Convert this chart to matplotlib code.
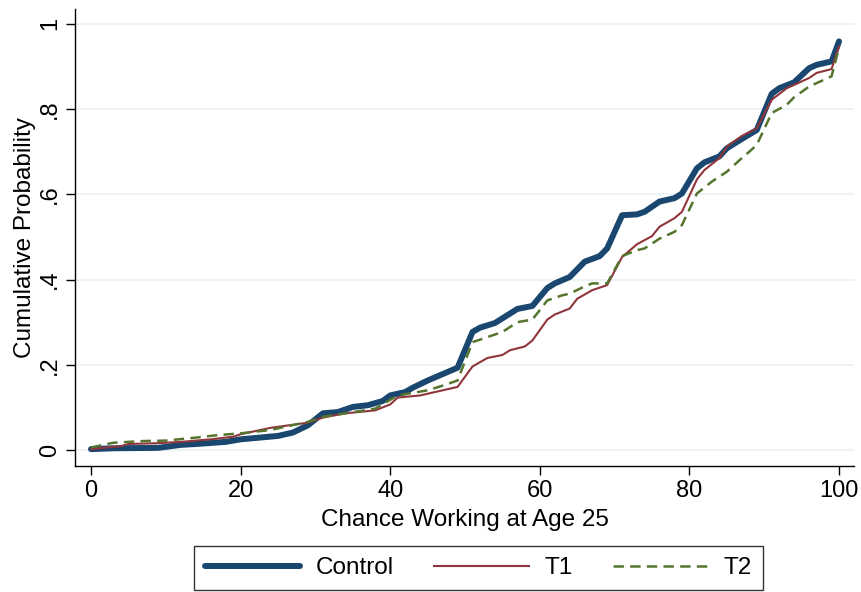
import matplotlib
matplotlib.use("Agg")
import matplotlib.pyplot as plt

plt.rcParams['font.family'] = ['Liberation Sans', 'DejaVu Sans']
plt.rcParams['lines.scale_dashes'] = False

# Cumulative distributions
ctrl_x = [0, 3, 9, 12, 14, 18, 20, 25, 27, 29, 31, 33, 35, 37, 39, 40, 42, 43, 45, 47,
          49, 51, 52, 54, 56, 57, 59, 61, 62, 64, 66, 68, 69, 71, 73, 74, 76, 78, 79, 81,
          82, 84, 85, 87, 89, 91, 92, 94, 96, 97, 99, 100]
ctrl_y = [0.002, 0.004, 0.005, 0.012, 0.014, 0.019, 0.025, 0.033, 0.041, 0.058,
          0.086, 0.089, 0.101, 0.105, 0.115, 0.128, 0.136, 0.146, 0.163, 0.178,
          0.193, 0.277, 0.287, 0.298, 0.320, 0.331, 0.338, 0.380, 0.391, 0.406,
          0.442, 0.455, 0.473, 0.551, 0.553, 0.559, 0.583, 0.591, 0.602, 0.661,
          0.675, 0.689, 0.708, 0.730, 0.751, 0.836, 0.849, 0.863, 0.896, 0.904,
          0.912, 0.959]

t1_x = [0, 4, 5, 9, 12, 16, 19, 20, 24, 29, 31, 34, 38, 40, 41, 44, 46, 49,
        51, 53, 55, 56, 58, 59, 61, 62, 64, 65, 67, 69, 71, 73, 75, 76, 78, 79,
        81, 82, 84, 85, 87, 89, 91, 93, 94, 96, 97, 99, 100]
t1_y = [0.002, 0.009, 0.014, 0.016, 0.019, 0.025, 0.031, 0.037, 0.052, 0.064,
        0.076, 0.086, 0.093, 0.107, 0.123, 0.128, 0.136, 0.148,
        0.196, 0.216, 0.223, 0.234, 0.243, 0.257, 0.306, 0.318, 0.332, 0.355,
        0.375, 0.387, 0.453, 0.483, 0.502, 0.524, 0.544, 0.559,
        0.635, 0.657, 0.685, 0.712, 0.737, 0.755, 0.822, 0.849, 0.857, 0.873,
        0.885, 0.894, 0.947]

t2_x = [0, 3, 7, 10, 14, 17, 20, 24, 29, 31, 34, 38, 41, 45, 47, 49,
        51, 53, 55, 57, 59, 61, 63, 64, 66, 67, 69, 71, 73, 74, 76, 78, 79,
        81, 83, 85, 87, 88, 89, 91, 93, 94, 96, 98, 99, 100]
t2_y = [0.006, 0.017, 0.021, 0.022, 0.029, 0.035, 0.039, 0.047, 0.066, 0.078,
        0.086, 0.097, 0.128, 0.140, 0.151, 0.163,
        0.253, 0.265, 0.277, 0.300, 0.306, 0.351, 0.363, 0.367, 0.384, 0.391,
        0.391, 0.455, 0.469, 0.473, 0.496, 0.512, 0.528,
        0.602, 0.630, 0.653, 0.685, 0.700, 0.716, 0.791, 0.810, 0.828, 0.853,
        0.869, 0.877, 0.944]

x_ticks = [0, 20, 40, 60, 80, 100]
y_ticks = [0, 0.2, 0.4, 0.6, 0.8, 1]
y_labels = ['0', '.2', '.4', '.6', '.8', '1']

fig = plt.figure(figsize=(8.61, 5.92), dpi=100)
ax = fig.add_axes([75 / 861, 1 - 466 / 592, 779 / 861, 457 / 592])

ax.plot(ctrl_x, ctrl_y, color='#1a476f', lw=4.3, label='Control', solid_capstyle='round', zorder=3)
ax.plot(t1_x, t1_y, color='#90353b', lw=1.5, label='T1', zorder=4)
ax.plot(t2_x, t2_y, color='#55752f', lw=1.8, dashes=(7.5, 4.5), label='T2', zorder=5)

ax.set_xlim(-2.14, 102.0)
ax.set_ylim(-0.0376, 1.035)
ax.set_xticks(x_ticks)
ax.set_yticks(y_ticks)
ax.set_yticklabels(y_labels)
ax.grid(axis='y', color='#eaf2f3', lw=1.2, zorder=0)
ax.set_axisbelow(True)

for s in ['top', 'right']:
    ax.spines[s].set_visible(False)
for s in ['left', 'bottom']:
    ax.spines[s].set_linewidth(1.0)

ax.tick_params(length=6.5, width=1.0, labelsize=17, pad=3.5)
ax.tick_params(axis='y', labelrotation=90)
for lab in ax.get_yticklabels():
    lab.set_va('center')

ax.set_xlabel('Chance Working at Age 25', fontsize=17.5)
ax.set_ylabel('Cumulative Probability', fontsize=17.5)
ax.xaxis.set_label_coords(0.5, -0.118)
ax.xaxis.label.set_va('center')
ax.yaxis.set_label_coords(-0.064, 0.5)
ax.yaxis.label.set_va('center')

leg = fig.legend(loc='center', bbox_to_anchor=(478.5 / 861, 1 - 568 / 592), ncol=3,
                 fontsize=17.5, frameon=True, fancybox=False, edgecolor='black',
                 handlelength=3.9, handletextpad=0.65, columnspacing=1.65,
                 borderpad=0.45, borderaxespad=0)
leg.get_frame().set_linewidth(1.0)

fig.savefig('out.png', dpi=100)
